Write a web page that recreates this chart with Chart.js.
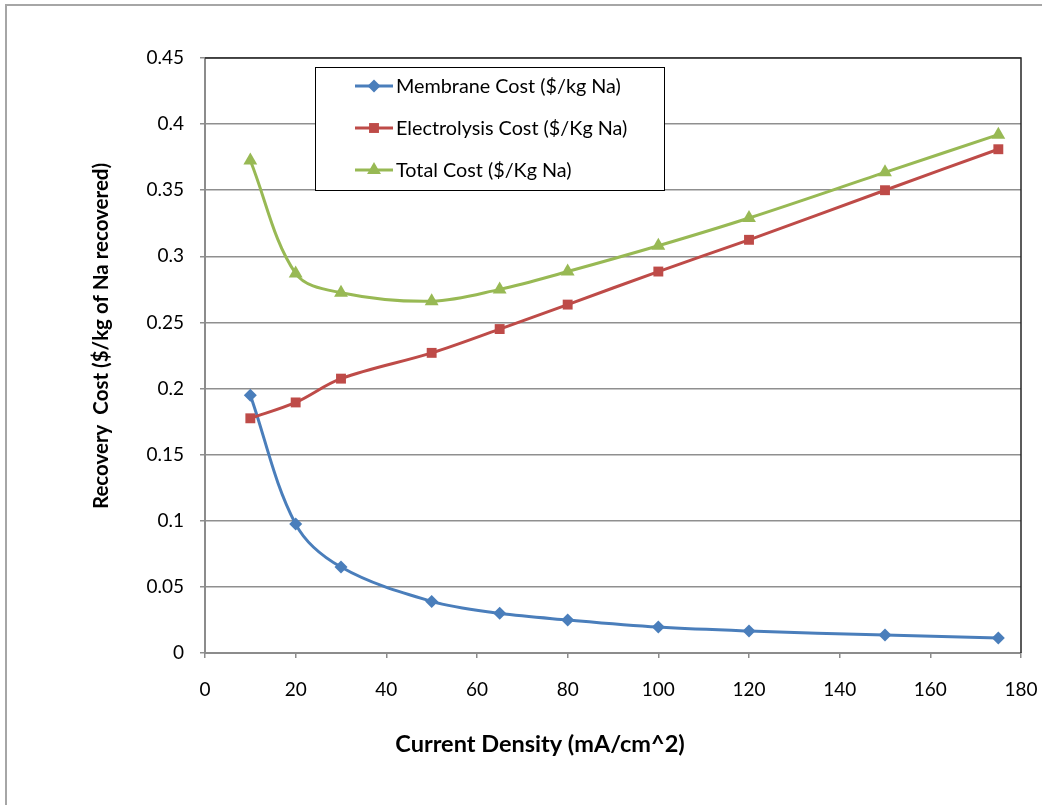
<!DOCTYPE html>
<html><head><meta charset="utf-8">
<script src="https://cdn.jsdelivr.net/npm/chart.js@4.4.0/dist/chart.umd.min.js"></script>
<style>html,body{margin:0;padding:0;background:#fff;}#wrap{position:relative;width:1042px;height:805px;}canvas{display:block;}</style>
</head><body><div id="wrap"><canvas id="c" width="1042" height="805"></canvas></div>
<script>
const currentDensity = [10, 20, 30, 50, 65, 80, 100, 120, 150, 175];
const membraneCost = [0.195, 0.0975, 0.065, 0.039, 0.030, 0.025, 0.0196, 0.0166, 0.0136, 0.0113];
const electrolysisCost = [0.1775, 0.1895, 0.2075, 0.227, 0.245, 0.2635, 0.2885, 0.3125, 0.350, 0.381];
const totalCost = [0.3725, 0.287, 0.2725, 0.266, 0.275, 0.2885, 0.308, 0.329, 0.3635, 0.392];
const seriesNames = ["Membrane Cost ($/kg Na)", "Electrolysis Cost ($/Kg Na)", "Total Cost ($/Kg Na)"];
const xTickValues = [0, 20, 40, 60, 80, 100, 120, 140, 160, 180];
const yTickValues = [0, 0.05, 0.1, 0.15, 0.2, 0.25, 0.3, 0.35, 0.4, 0.45];
const yTickLabels = ["0", "0.05", "0.1", "0.15", "0.2", "0.25", "0.3", "0.35", "0.4", "0.45"];
const xTitle = "Current Density (mA/cm^2)";
const yTitle = "Recovery  Cost ($/kg of Na recovered)";

const FONT = "Lato, Calibri, 'Liberation Sans', sans-serif";
const colors = ["#4A7EBB", "#BE4B48", "#98B954"];
const shapes = ["rectRot", "rect", "triangle"];
const radii = [6.5, 7, 8];
const seriesData = [membraneCost, electrolysisCost, totalCost];

const datasets = seriesData.map((arr, i) => ({
  label: seriesNames[i],
  data: currentDensity.map((x, j) => ({ x: x, y: arr[j] })),
  borderColor: colors[i],
  backgroundColor: colors[i],
  borderWidth: 3,
  pointStyle: shapes[i],
  pointRadius: radii[i],
  pointBorderWidth: 0,
  pointBackgroundColor: colors[i],
  pointHoverRadius: radii[i],
  tension: 0.35,
  order: 2 - i
}));

const decor = {
  id: "decor",
  afterDraw(chart) {
    const ctx = chart.ctx;
    const a = chart.chartArea;
    ctx.save();
    // outer chart border
    ctx.strokeStyle = "#a6a6a6";
    ctx.lineWidth = 2;
    ctx.beginPath();
    ctx.moveTo(6, 805);
    ctx.lineTo(6, 5);
    ctx.lineTo(1042, 5);
    ctx.stroke();
    // plot area border top / right
    ctx.strokeStyle = "#262626";
    ctx.lineWidth = 1.5;
    ctx.beginPath();
    ctx.moveTo(a.left, a.top);
    ctx.lineTo(a.right, a.top);
    ctx.lineTo(a.right, a.bottom);
    ctx.stroke();
    // legend box
    const lx = 315, ly = 67, lw = 349, lh = 123;
    ctx.fillStyle = "#fff";
    ctx.fillRect(lx, ly, lw, lh);
    ctx.strokeStyle = "#000";
    ctx.lineWidth = 1;
    ctx.strokeRect(lx + 0.5, ly + 0.5, lw, lh);
    const rows = [86, 128, 170];
    chart.data.datasets.forEach((ds, i) => {
      const y = rows[i];
      ctx.strokeStyle = ds.borderColor;
      ctx.lineWidth = 3;
      ctx.beginPath();
      ctx.moveTo(355, y);
      ctx.lineTo(393, y);
      ctx.stroke();
      ctx.fillStyle = ds.borderColor;
      ctx.beginPath();
      Chart.helpers.drawPoint(ctx, { pointStyle: ds.pointStyle, radius: ds.pointRadius, borderWidth: 0 }, 374, y);
      ctx.fillStyle = "#000";
      ctx.font = "19.8px " + FONT;
      ctx.textAlign = "left";
      ctx.textBaseline = "middle";
      ctx.fillText(ds.label, 396, y + 1);
    });
    // axis titles
    ctx.fillStyle = "#000";
    ctx.textAlign = "center";
    ctx.textBaseline = "middle";
    ctx.font = "bold 23.5px " + FONT;
    ctx.fillText(xTitle, 540, 744);
    ctx.font = "bold 20.5px " + FONT;
    ctx.translate(101, 336);
    ctx.rotate(-Math.PI / 2);
    ctx.fillText(yTitle, 0, 0);
    ctx.restore();
  }
};

new Chart(document.getElementById("c"), {
  type: "line",
  data: { datasets: datasets },
  options: {
    responsive: false,
    animation: false,
    events: [],
    layout: { padding: { left: 0, right: 21, top: 58, bottom: 0 } },
    plugins: { legend: { display: false }, tooltip: { enabled: false } },
    scales: {
      x: {
        type: "linear",
        min: 0, max: 180,
        afterBuildTicks(s) { s.ticks = xTickValues.map(v => ({ value: v })); },
        afterFit(s) { s.height = 152; s.paddingLeft = 0; s.paddingRight = 0; },
        border: { display: true, color: "#8c8c8c", width: 2 },
        grid: { display: true, drawOnChartArea: false, drawTicks: true, tickLength: 5, color: "#8c8c8c", lineWidth: 1.5 },
        ticks: { color: "#000", font: { family: FONT, size: 19 }, padding: 20, maxRotation: 0, autoSkip: false }
      },
      y: {
        type: "linear",
        min: 0, max: 0.45,
        afterBuildTicks(s) { s.ticks = yTickValues.map(v => ({ value: v })); },
        afterFit(s) { s.width = 205; s.paddingTop = 0; s.paddingBottom = 0; },
        border: { display: true, color: "#8c8c8c", width: 2 },
        grid: { display: true, drawTicks: true, tickLength: 5, color: "#8f8f8f", lineWidth: 1.5 },
        ticks: {
          color: "#000", font: { family: FONT, size: 19 }, padding: 16, autoSkip: false,
          callback(v) { const k = yTickValues.findIndex(t => Math.abs(t - v) < 1e-9); return k >= 0 ? yTickLabels[k] : ""; }
        }
      }
    }
  },
  plugins: [decor]
});
</script>
</body></html>
